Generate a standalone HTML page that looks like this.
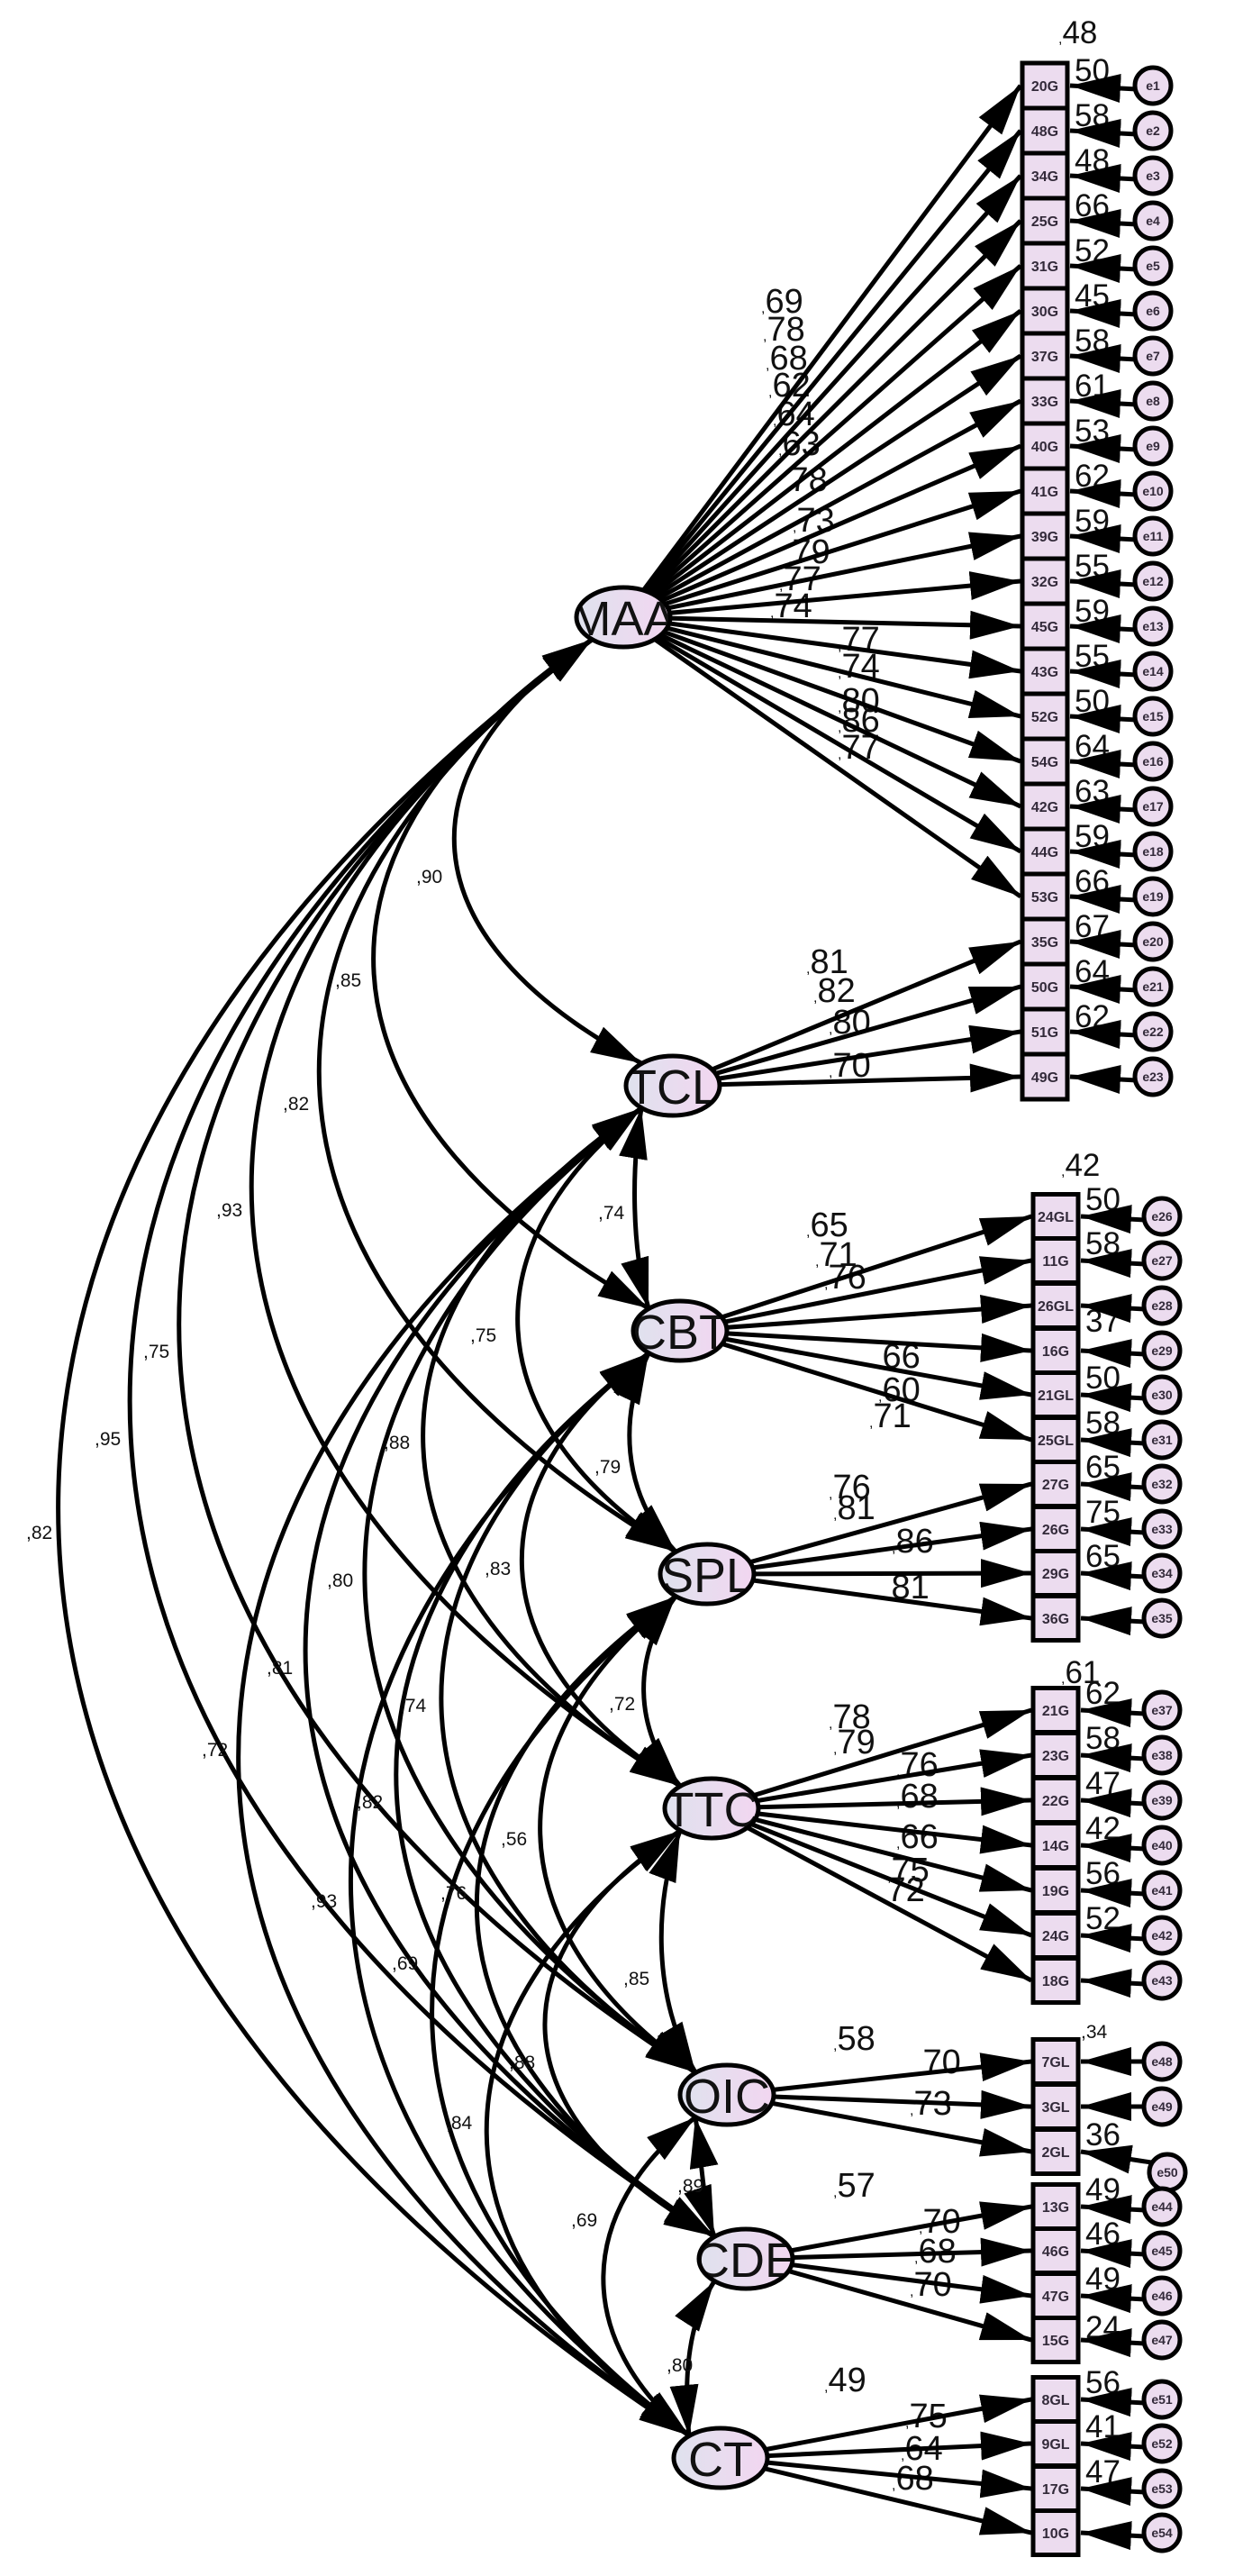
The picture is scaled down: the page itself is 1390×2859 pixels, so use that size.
<!DOCTYPE html>
<html><head><meta charset="utf-8"><style>
html,body{margin:0;padding:0;background:#fff}
svg{display:block}
.ln{stroke:#000;stroke-width:5;fill:none}
.bx{fill:#ecdcef;stroke:#000;stroke-width:5;height:50px;transform:translateY(-3px)}
rect.bx[x="1147"]{height:49px;transform:translateY(-2.5px)}
.bt{font-family:"Liberation Sans",sans-serif;font-size:16px;font-weight:bold;fill:#332a3a;text-anchor:middle}
.ec{fill:#ecdcef;stroke:#000;stroke-width:5}
.et{font-family:"Liberation Sans",sans-serif;font-size:14px;font-weight:bold;fill:#332a3a;text-anchor:middle}
.L{font-family:"Liberation Sans",sans-serif;font-size:38px;fill:#111}
.S{font-family:"Liberation Sans",sans-serif;font-size:35px;fill:#111}
.c{font-size:16px}
.R{font-family:"Liberation Sans",sans-serif;font-size:21px;fill:#111}
.lat{stroke:#000;stroke-width:5;fill:url(#g)}
.lt{font-family:"Liberation Sans",sans-serif;font-size:54px;fill:#111;text-anchor:middle}
</style></head><body>
<svg width="1390" height="2859" viewBox="0 0 1390 2859" xmlns="http://www.w3.org/2000/svg">
<defs>
<marker id="a" markerWidth="56" markerHeight="32" refX="56" refY="16" orient="auto-start-reverse" markerUnits="userSpaceOnUse"><path d="M0,0 L56,16 L0,32 z" fill="#000"/></marker>
<linearGradient id="g" x1="0" x2="1" y1="0" y2="0"><stop offset="0" stop-color="#dfe2ee"/><stop offset="1" stop-color="#f2d6f0"/></linearGradient>
<clipPath id="kMAA"><ellipse cx="692" cy="685" rx="50" ry="31"/></clipPath>
<clipPath id="kTCL"><ellipse cx="747" cy="1205" rx="50" ry="31"/></clipPath>
<clipPath id="kCBT"><ellipse cx="755" cy="1477" rx="50" ry="31"/></clipPath>
<clipPath id="kSPL"><ellipse cx="785" cy="1747" rx="50" ry="31"/></clipPath>
<clipPath id="kTTC"><ellipse cx="790" cy="2007" rx="50" ry="31"/></clipPath>
<clipPath id="kOIC"><ellipse cx="807" cy="2325" rx="50" ry="31"/></clipPath>
<clipPath id="kCDE"><ellipse cx="828" cy="2507" rx="50" ry="31"/></clipPath>
<clipPath id="kCT"><ellipse cx="800" cy="2728" rx="50" ry="31"/></clipPath>
</defs>

<g class="S">
<text x="1175" y="48"><tspan class="c">,</tspan>48</text>
<text x="1193" y="90">50</text><text x="1193" y="140">58</text><text x="1193" y="190">48</text><text x="1193" y="240">66</text>
<text x="1193" y="290">52</text><text x="1193" y="340">45</text><text x="1193" y="390">58</text><text x="1193" y="440">61</text>
<text x="1193" y="490">53</text><text x="1193" y="540">62</text><text x="1193" y="590">59</text><text x="1193" y="640">55</text>
<text x="1193" y="690">59</text><text x="1193" y="740">55</text><text x="1193" y="790">50</text><text x="1193" y="840">64</text>
<text x="1193" y="890">63</text><text x="1193" y="940">59</text><text x="1193" y="990">66</text><text x="1193" y="1040">67</text>
<text x="1193" y="1090">64</text><text x="1193" y="1140">62</text>
<text x="1178" y="1305"><tspan class="c">,</tspan>42</text>
<text x="1205" y="1343">50</text><text x="1205" y="1392">58</text><text x="1205" y="1478">37</text>
<text x="1205" y="1541">50</text><text x="1205" y="1591">58</text><text x="1205" y="1640">65</text><text x="1205" y="1690">75</text><text x="1205" y="1739">65</text>
<text x="1178" y="1868"><tspan class="c">,</tspan>61</text>
<text x="1205" y="1891">62</text><text x="1205" y="1941">58</text><text x="1205" y="1991">47</text><text x="1205" y="2041">42</text><text x="1205" y="2091">56</text><text x="1205" y="2141">52</text>
<text x="1205" y="2381">36</text>
<text x="1205" y="2442">49</text><text x="1205" y="2491">46</text><text x="1205" y="2541">49</text><text x="1205" y="2595">24</text>
<text x="1205" y="2656">56</text><text x="1205" y="2705">41</text><text x="1205" y="2755">47</text>
</g>
<text class="R" x="1200" y="2262">,34</text>

<g class="L">
<text x="845" y="347"><tspan class="c">,</tspan>69</text>
<text x="847" y="378"><tspan class="c">,</tspan>78</text>
<text x="850" y="410"><tspan class="c">,</tspan>68</text>
<text x="853" y="440"><tspan class="c">,</tspan>62</text>
<text x="858" y="472"><tspan class="c">,</tspan>64</text>
<text x="864" y="505"><tspan class="c">,</tspan>63</text>
<text x="872" y="545"><tspan class="c">,</tspan>78</text>
<text x="880" y="590"><tspan class="c">,</tspan>73</text>
<text x="875" y="625"><tspan class="c">,</tspan>79</text>
<text x="865" y="655"><tspan class="c">,</tspan>77</text>
<text x="855" y="685"><tspan class="c">,</tspan>74</text>
<text x="930" y="722"><tspan class="c">,</tspan>77</text>
<text x="930" y="752"><tspan class="c">,</tspan>74</text>
<text x="930" y="790"><tspan class="c">,</tspan>80</text>
<text x="930" y="812"><tspan class="c">,</tspan>86</text>
<text x="930" y="842"><tspan class="c">,</tspan>77</text>
<text x="895" y="1080"><tspan class="c">,</tspan>81</text>
<text x="903" y="1112"><tspan class="c">,</tspan>82</text>
<text x="920" y="1147"><tspan class="c">,</tspan>80</text>
<text x="920" y="1195"><tspan class="c">,</tspan>70</text>
<text x="895" y="1372"><tspan class="c">,</tspan>65</text>
<text x="905" y="1405"><tspan class="c">,</tspan>71</text>
<text x="915" y="1430"><tspan class="c">,</tspan>76</text>
<text x="975" y="1518"><tspan class="c">,</tspan>66</text>
<text x="975" y="1555"><tspan class="c">,</tspan>60</text>
<text x="965" y="1584"><tspan class="c">,</tspan>71</text>
<text x="920" y="1663"><tspan class="c">,</tspan>76</text>
<text x="925" y="1686"><tspan class="c">,</tspan>81</text>
<text x="990" y="1723"><tspan class="c">,</tspan>86</text>
<text x="985" y="1774"><tspan class="c">,</tspan>81</text>
<text x="920" y="1918"><tspan class="c">,</tspan>78</text>
<text x="925" y="1946"><tspan class="c">,</tspan>79</text>
<text x="995" y="1971"><tspan class="c">,</tspan>76</text>
<text x="995" y="2006"><tspan class="c">,</tspan>68</text>
<text x="995" y="2051"><tspan class="c">,</tspan>66</text>
<text x="985" y="2088"><tspan class="c">,</tspan>75</text>
<text x="980" y="2110"><tspan class="c">,</tspan>72</text>
<text x="925" y="2275"><tspan class="c">,</tspan>58</text>
<text x="1020" y="2301"><tspan class="c">,</tspan>70</text>
<text x="1010" y="2347"><tspan class="c">,</tspan>73</text>
<text x="925" y="2438"><tspan class="c">,</tspan>57</text>
<text x="1020" y="2478"><tspan class="c">,</tspan>70</text>
<text x="1015" y="2511"><tspan class="c">,</tspan>68</text>
<text x="1010" y="2548"><tspan class="c">,</tspan>70</text>
<text x="915" y="2654"><tspan class="c">,</tspan>49</text>
<text x="1005" y="2694"><tspan class="c">,</tspan>75</text>
<text x="1000" y="2730"><tspan class="c">,</tspan>64</text>
<text x="990" y="2763"><tspan class="c">,</tspan>68</text>
</g>

<g class="ln" marker-start="url(#a)" marker-end="url(#a)">
<path d="M657,710 C445,851 445,1039 712,1180"/>
<path d="M657,710 C324,933 324,1229 720,1452"/>
<path d="M657,710 C239,1014 239,1418 750,1722"/>
<path d="M657,710 C138,1092 138,1600 755,1982"/>
<path d="M657,710 C28,1187 28,1823 772,2300"/>
<path d="M657,710 C-48,1242 -48,1950 793,2482"/>
<path d="M657,710 C-150,1308 -150,2105 765,2703"/>
<path d="M712,1230 C701,1297 701,1385 720,1452"/>
<path d="M712,1230 C523,1378 523,1574 750,1722"/>
<path d="M712,1230 C382,1456 382,1756 755,1982"/>
<path d="M712,1230 C293,1551 293,1979 772,2300"/>
<path d="M712,1230 C202,1606 202,2106 793,2482"/>
<path d="M712,1230 C107,1672 107,2261 765,2703"/>
<path d="M720,1502 C688,1568 688,1656 750,1722"/>
<path d="M720,1502 C527,1646 527,1838 755,1982"/>
<path d="M720,1502 C405,1741 405,2061 772,2300"/>
<path d="M720,1502 C335,1796 335,2188 793,2482"/>
<path d="M720,1502 C272,1862 272,2343 765,2703"/>
<path d="M750,1772 C702,1835 702,1919 755,1982"/>
<path d="M750,1772 C546,1930 546,2142 772,2300"/>
<path d="M750,1772 C449,1985 449,2269 793,2482"/>
<path d="M750,1772 C387,2051 387,2424 765,2703"/>
<path d="M755,2032 C725,2112 725,2220 772,2300"/>
<path d="M755,2032 C549,2167 549,2347 793,2482"/>
<path d="M755,2032 C467,2233 467,2502 765,2703"/>
<path d="M772,2350 C779,2390 779,2442 793,2482"/>
<path d="M772,2350 C637,2456 637,2597 765,2703"/>
<path d="M793,2532 C760,2583 760,2652 765,2703"/>
</g>
<g class="R">
<text x="462" y="980">,90</text><text x="372" y="1095">,85</text><text x="314" y="1232">,82</text>
<text x="240" y="1350">,93</text><text x="159" y="1507">,75</text><text x="105" y="1604">,95</text>
<text x="29" y="1708">,82</text><text x="664" y="1353">,74</text><text x="522" y="1489">,75</text>
<text x="426" y="1608">,88</text><text x="363" y="1761">,80</text><text x="296" y="1858">,81</text>
<text x="224" y="1949">,72</text><text x="660" y="1635">,79</text><text x="538" y="1748">,83</text>
<text x="444" y="1900">,74</text><text x="396" y="2007">,82</text><text x="345" y="2117">,93</text>
<text x="676" y="1898">,72</text><text x="556" y="2048">,56</text><text x="489" y="2108">,76</text>
<text x="435" y="2186">,69</text><text x="692" y="2203">,85</text><text x="565" y="2296">,88</text>
<text x="495" y="2363">,84</text><text x="634" y="2471">,69</text><text x="752" y="2433">,89</text>
<text x="740" y="2632">,80</text>
</g>

<g class="ln" marker-end="url(#a)">
<line x1="692" y1="685" x2="1133" y2="95"/><line x1="692" y1="685" x2="1133" y2="145"/>
<line x1="692" y1="685" x2="1133" y2="195"/><line x1="692" y1="685" x2="1133" y2="245"/>
<line x1="692" y1="685" x2="1133" y2="295"/><line x1="692" y1="685" x2="1133" y2="345"/>
<line x1="692" y1="685" x2="1133" y2="395"/><line x1="692" y1="685" x2="1133" y2="445"/>
<line x1="692" y1="685" x2="1133" y2="495"/><line x1="692" y1="685" x2="1133" y2="545"/>
<line x1="692" y1="685" x2="1133" y2="595"/><line x1="692" y1="685" x2="1133" y2="645"/>
<line x1="692" y1="685" x2="1133" y2="695"/><line x1="692" y1="685" x2="1133" y2="745"/>
<line x1="692" y1="685" x2="1133" y2="795"/><line x1="692" y1="685" x2="1133" y2="845"/>
<line x1="692" y1="685" x2="1133" y2="895"/><line x1="692" y1="685" x2="1133" y2="945"/>
<line x1="692" y1="685" x2="1133" y2="995"/>
<line x1="747" y1="1205" x2="1133" y2="1045"/><line x1="747" y1="1205" x2="1133" y2="1095"/>
<line x1="747" y1="1205" x2="1133" y2="1145"/><line x1="747" y1="1205" x2="1133" y2="1195"/>
<line x1="755" y1="1477" x2="1145" y2="1350"/><line x1="755" y1="1477" x2="1145" y2="1399"/>
<line x1="755" y1="1477" x2="1145" y2="1449"/><line x1="755" y1="1477" x2="1145" y2="1499"/>
<line x1="755" y1="1477" x2="1145" y2="1548"/><line x1="755" y1="1477" x2="1145" y2="1598"/>
<line x1="785" y1="1747" x2="1145" y2="1647"/><line x1="785" y1="1747" x2="1145" y2="1697"/>
<line x1="785" y1="1747" x2="1145" y2="1746"/><line x1="785" y1="1747" x2="1145" y2="1796"/>
<line x1="790" y1="2007" x2="1145" y2="1898"/><line x1="790" y1="2007" x2="1145" y2="1948"/>
<line x1="790" y1="2007" x2="1145" y2="1998"/><line x1="790" y1="2007" x2="1145" y2="2048"/>
<line x1="790" y1="2007" x2="1145" y2="2098"/><line x1="790" y1="2007" x2="1145" y2="2148"/>
<line x1="790" y1="2007" x2="1145" y2="2198"/>
<line x1="807" y1="2325" x2="1145" y2="2288"/><line x1="807" y1="2325" x2="1145" y2="2338"/>
<line x1="807" y1="2325" x2="1145" y2="2388"/>
<line x1="828" y1="2507" x2="1145" y2="2449"/><line x1="828" y1="2507" x2="1145" y2="2498"/>
<line x1="828" y1="2507" x2="1145" y2="2548"/><line x1="828" y1="2507" x2="1145" y2="2597"/>
<line x1="800" y1="2728" x2="1145" y2="2663"/><line x1="800" y1="2728" x2="1145" y2="2712"/>
<line x1="800" y1="2728" x2="1145" y2="2762"/><line x1="800" y1="2728" x2="1145" y2="2811"/>
</g>

<g class="ln" marker-end="url(#a)">
<line x1="1262" y1="99" x2="1188" y2="95"/><line x1="1262" y1="149" x2="1188" y2="145"/>
<line x1="1262" y1="199" x2="1188" y2="195"/><line x1="1262" y1="249" x2="1188" y2="245"/>
<line x1="1262" y1="299" x2="1188" y2="295"/><line x1="1262" y1="349" x2="1188" y2="345"/>
<line x1="1262" y1="399" x2="1188" y2="395"/><line x1="1262" y1="449" x2="1188" y2="445"/>
<line x1="1262" y1="499" x2="1188" y2="495"/><line x1="1262" y1="549" x2="1188" y2="545"/>
<line x1="1262" y1="599" x2="1188" y2="595"/><line x1="1262" y1="649" x2="1188" y2="645"/>
<line x1="1262" y1="699" x2="1188" y2="695"/><line x1="1262" y1="749" x2="1188" y2="745"/>
<line x1="1262" y1="799" x2="1188" y2="795"/><line x1="1262" y1="849" x2="1188" y2="845"/>
<line x1="1262" y1="899" x2="1188" y2="895"/><line x1="1262" y1="949" x2="1188" y2="945"/>
<line x1="1262" y1="999" x2="1188" y2="995"/><line x1="1262" y1="1049" x2="1188" y2="1045"/>
<line x1="1262" y1="1099" x2="1188" y2="1095"/><line x1="1262" y1="1149" x2="1188" y2="1145"/>
<line x1="1262" y1="1199" x2="1188" y2="1195"/>
<line x1="1272" y1="1354" x2="1200" y2="1350"/><line x1="1272" y1="1403" x2="1200" y2="1399"/>
<line x1="1272" y1="1453" x2="1200" y2="1449"/><line x1="1272" y1="1503" x2="1200" y2="1499"/>
<line x1="1272" y1="1552" x2="1200" y2="1548"/><line x1="1272" y1="1602" x2="1200" y2="1598"/>
<line x1="1272" y1="1651" x2="1200" y2="1647"/><line x1="1272" y1="1701" x2="1200" y2="1697"/>
<line x1="1272" y1="1750" x2="1200" y2="1746"/><line x1="1272" y1="1800" x2="1200" y2="1796"/>
<line x1="1272" y1="1902" x2="1200" y2="1898"/><line x1="1272" y1="1952" x2="1200" y2="1948"/>
<line x1="1272" y1="2002" x2="1200" y2="1998"/><line x1="1272" y1="2052" x2="1200" y2="2048"/>
<line x1="1272" y1="2102" x2="1200" y2="2098"/><line x1="1272" y1="2152" x2="1200" y2="2148"/>
<line x1="1272" y1="2202" x2="1200" y2="2198"/>
<line x1="1272" y1="2288" x2="1200" y2="2288"/><line x1="1272" y1="2338" x2="1200" y2="2338"/>
<line x1="1278" y1="2400" x2="1200" y2="2388"/>
<line x1="1272" y1="2453" x2="1200" y2="2449"/><line x1="1272" y1="2502" x2="1200" y2="2498"/>
<line x1="1272" y1="2552" x2="1200" y2="2548"/><line x1="1272" y1="2601" x2="1200" y2="2597"/>
<line x1="1272" y1="2667" x2="1200" y2="2663"/><line x1="1272" y1="2716" x2="1200" y2="2712"/>
<line x1="1272" y1="2766" x2="1200" y2="2762"/><line x1="1272" y1="2815" x2="1200" y2="2811"/>
</g>

<g>
<rect class="bx" x="1135" y="73" width="50" height="44"/><text class="bt" x="1160" y="101">20G</text>
<rect class="bx" x="1135" y="123" width="50" height="44"/><text class="bt" x="1160" y="151">48G</text>
<rect class="bx" x="1135" y="173" width="50" height="44"/><text class="bt" x="1160" y="201">34G</text>
<rect class="bx" x="1135" y="223" width="50" height="44"/><text class="bt" x="1160" y="251">25G</text>
<rect class="bx" x="1135" y="273" width="50" height="44"/><text class="bt" x="1160" y="301">31G</text>
<rect class="bx" x="1135" y="323" width="50" height="44"/><text class="bt" x="1160" y="351">30G</text>
<rect class="bx" x="1135" y="373" width="50" height="44"/><text class="bt" x="1160" y="401">37G</text>
<rect class="bx" x="1135" y="423" width="50" height="44"/><text class="bt" x="1160" y="451">33G</text>
<rect class="bx" x="1135" y="473" width="50" height="44"/><text class="bt" x="1160" y="501">40G</text>
<rect class="bx" x="1135" y="523" width="50" height="44"/><text class="bt" x="1160" y="551">41G</text>
<rect class="bx" x="1135" y="573" width="50" height="44"/><text class="bt" x="1160" y="601">39G</text>
<rect class="bx" x="1135" y="623" width="50" height="44"/><text class="bt" x="1160" y="651">32G</text>
<rect class="bx" x="1135" y="673" width="50" height="44"/><text class="bt" x="1160" y="701">45G</text>
<rect class="bx" x="1135" y="723" width="50" height="44"/><text class="bt" x="1160" y="751">43G</text>
<rect class="bx" x="1135" y="773" width="50" height="44"/><text class="bt" x="1160" y="801">52G</text>
<rect class="bx" x="1135" y="823" width="50" height="44"/><text class="bt" x="1160" y="851">54G</text>
<rect class="bx" x="1135" y="873" width="50" height="44"/><text class="bt" x="1160" y="901">42G</text>
<rect class="bx" x="1135" y="923" width="50" height="44"/><text class="bt" x="1160" y="951">44G</text>
<rect class="bx" x="1135" y="973" width="50" height="44"/><text class="bt" x="1160" y="1001">53G</text>
<rect class="bx" x="1135" y="1023" width="50" height="44"/><text class="bt" x="1160" y="1051">35G</text>
<rect class="bx" x="1135" y="1073" width="50" height="44"/><text class="bt" x="1160" y="1101">50G</text>
<rect class="bx" x="1135" y="1123" width="50" height="44"/><text class="bt" x="1160" y="1151">51G</text>
<rect class="bx" x="1135" y="1173" width="50" height="44"/><text class="bt" x="1160" y="1201">49G</text>
</g>
<g>
<rect class="bx" x="1147" y="1328" width="50" height="44"/><text class="bt" x="1172" y="1356">24GL</text>
<rect class="bx" x="1147" y="1377" width="50" height="44"/><text class="bt" x="1172" y="1405">11G</text>
<rect class="bx" x="1147" y="1427" width="50" height="44"/><text class="bt" x="1172" y="1455">26GL</text>
<rect class="bx" x="1147" y="1477" width="50" height="44"/><text class="bt" x="1172" y="1505">16G</text>
<rect class="bx" x="1147" y="1526" width="50" height="44"/><text class="bt" x="1172" y="1554">21GL</text>
<rect class="bx" x="1147" y="1576" width="50" height="44"/><text class="bt" x="1172" y="1604">25GL</text>
<rect class="bx" x="1147" y="1625" width="50" height="44"/><text class="bt" x="1172" y="1653">27G</text>
<rect class="bx" x="1147" y="1675" width="50" height="44"/><text class="bt" x="1172" y="1703">26G</text>
<rect class="bx" x="1147" y="1724" width="50" height="44"/><text class="bt" x="1172" y="1752">29G</text>
<rect class="bx" x="1147" y="1774" width="50" height="44"/><text class="bt" x="1172" y="1802">36G</text>
<rect class="bx" x="1147" y="1876" width="50" height="44"/><text class="bt" x="1172" y="1904">21G</text>
<rect class="bx" x="1147" y="1926" width="50" height="44"/><text class="bt" x="1172" y="1954">23G</text>
<rect class="bx" x="1147" y="1976" width="50" height="44"/><text class="bt" x="1172" y="2004">22G</text>
<rect class="bx" x="1147" y="2026" width="50" height="44"/><text class="bt" x="1172" y="2054">14G</text>
<rect class="bx" x="1147" y="2076" width="50" height="44"/><text class="bt" x="1172" y="2104">19G</text>
<rect class="bx" x="1147" y="2126" width="50" height="44"/><text class="bt" x="1172" y="2154">24G</text>
<rect class="bx" x="1147" y="2176" width="50" height="44"/><text class="bt" x="1172" y="2204">18G</text>
<rect class="bx" x="1147" y="2266" width="50" height="44"/><text class="bt" x="1172" y="2294">7GL</text>
<rect class="bx" x="1147" y="2316" width="50" height="44"/><text class="bt" x="1172" y="2344">3GL</text>
<rect class="bx" x="1147" y="2366" width="50" height="44"/><text class="bt" x="1172" y="2394">2GL</text>
<rect class="bx" x="1147" y="2427" width="50" height="44"/><text class="bt" x="1172" y="2455">13G</text>
<rect class="bx" x="1147" y="2476" width="50" height="44"/><text class="bt" x="1172" y="2504">46G</text>
<rect class="bx" x="1147" y="2526" width="50" height="44"/><text class="bt" x="1172" y="2554">47G</text>
<rect class="bx" x="1147" y="2575" width="50" height="44"/><text class="bt" x="1172" y="2603">15G</text>
<rect class="bx" x="1147" y="2641" width="50" height="44"/><text class="bt" x="1172" y="2669">8GL</text>
<rect class="bx" x="1147" y="2690" width="50" height="44"/><text class="bt" x="1172" y="2718">9GL</text>
<rect class="bx" x="1147" y="2740" width="50" height="44"/><text class="bt" x="1172" y="2768">17G</text>
<rect class="bx" x="1147" y="2789" width="50" height="44"/><text class="bt" x="1172" y="2817">10G</text>
</g>

<g>
<circle class="ec" cx="1280" cy="95" r="20"/><text class="et" x="1280" y="100">e1</text>
<circle class="ec" cx="1280" cy="145" r="20"/><text class="et" x="1280" y="150">e2</text>
<circle class="ec" cx="1280" cy="195" r="20"/><text class="et" x="1280" y="200">e3</text>
<circle class="ec" cx="1280" cy="245" r="20"/><text class="et" x="1280" y="250">e4</text>
<circle class="ec" cx="1280" cy="295" r="20"/><text class="et" x="1280" y="300">e5</text>
<circle class="ec" cx="1280" cy="345" r="20"/><text class="et" x="1280" y="350">e6</text>
<circle class="ec" cx="1280" cy="395" r="20"/><text class="et" x="1280" y="400">e7</text>
<circle class="ec" cx="1280" cy="445" r="20"/><text class="et" x="1280" y="450">e8</text>
<circle class="ec" cx="1280" cy="495" r="20"/><text class="et" x="1280" y="500">e9</text>
<circle class="ec" cx="1280" cy="545" r="20"/><text class="et" x="1280" y="550">e10</text>
<circle class="ec" cx="1280" cy="595" r="20"/><text class="et" x="1280" y="600">e11</text>
<circle class="ec" cx="1280" cy="645" r="20"/><text class="et" x="1280" y="650">e12</text>
<circle class="ec" cx="1280" cy="695" r="20"/><text class="et" x="1280" y="700">e13</text>
<circle class="ec" cx="1280" cy="745" r="20"/><text class="et" x="1280" y="750">e14</text>
<circle class="ec" cx="1280" cy="795" r="20"/><text class="et" x="1280" y="800">e15</text>
<circle class="ec" cx="1280" cy="845" r="20"/><text class="et" x="1280" y="850">e16</text>
<circle class="ec" cx="1280" cy="895" r="20"/><text class="et" x="1280" y="900">e17</text>
<circle class="ec" cx="1280" cy="945" r="20"/><text class="et" x="1280" y="950">e18</text>
<circle class="ec" cx="1280" cy="995" r="20"/><text class="et" x="1280" y="1000">e19</text>
<circle class="ec" cx="1280" cy="1045" r="20"/><text class="et" x="1280" y="1050">e20</text>
<circle class="ec" cx="1280" cy="1095" r="20"/><text class="et" x="1280" y="1100">e21</text>
<circle class="ec" cx="1280" cy="1145" r="20"/><text class="et" x="1280" y="1150">e22</text>
<circle class="ec" cx="1280" cy="1195" r="20"/><text class="et" x="1280" y="1200">e23</text>
<circle class="ec" cx="1290" cy="1350" r="20"/><text class="et" x="1290" y="1355">e26</text>
<circle class="ec" cx="1290" cy="1399" r="20"/><text class="et" x="1290" y="1404">e27</text>
<circle class="ec" cx="1290" cy="1449" r="20"/><text class="et" x="1290" y="1454">e28</text>
<circle class="ec" cx="1290" cy="1499" r="20"/><text class="et" x="1290" y="1504">e29</text>
<circle class="ec" cx="1290" cy="1548" r="20"/><text class="et" x="1290" y="1553">e30</text>
<circle class="ec" cx="1290" cy="1598" r="20"/><text class="et" x="1290" y="1603">e31</text>
<circle class="ec" cx="1290" cy="1647" r="20"/><text class="et" x="1290" y="1652">e32</text>
<circle class="ec" cx="1290" cy="1697" r="20"/><text class="et" x="1290" y="1702">e33</text>
<circle class="ec" cx="1290" cy="1746" r="20"/><text class="et" x="1290" y="1751">e34</text>
<circle class="ec" cx="1290" cy="1796" r="20"/><text class="et" x="1290" y="1801">e35</text>
<circle class="ec" cx="1290" cy="1898" r="20"/><text class="et" x="1290" y="1903">e37</text>
<circle class="ec" cx="1290" cy="1948" r="20"/><text class="et" x="1290" y="1953">e38</text>
<circle class="ec" cx="1290" cy="1998" r="20"/><text class="et" x="1290" y="2003">e39</text>
<circle class="ec" cx="1290" cy="2048" r="20"/><text class="et" x="1290" y="2053">e40</text>
<circle class="ec" cx="1290" cy="2098" r="20"/><text class="et" x="1290" y="2103">e41</text>
<circle class="ec" cx="1290" cy="2148" r="20"/><text class="et" x="1290" y="2153">e42</text>
<circle class="ec" cx="1290" cy="2198" r="20"/><text class="et" x="1290" y="2203">e43</text>
<circle class="ec" cx="1290" cy="2288" r="20"/><text class="et" x="1290" y="2293">e48</text>
<circle class="ec" cx="1290" cy="2338" r="20"/><text class="et" x="1290" y="2343">e49</text>
<circle class="ec" cx="1296" cy="2411" r="20"/><text class="et" x="1296" y="2416">e50</text>
<circle class="ec" cx="1290" cy="2449" r="20"/><text class="et" x="1290" y="2454">e44</text>
<circle class="ec" cx="1290" cy="2498" r="20"/><text class="et" x="1290" y="2503">e45</text>
<circle class="ec" cx="1290" cy="2548" r="20"/><text class="et" x="1290" y="2553">e46</text>
<circle class="ec" cx="1290" cy="2597" r="20"/><text class="et" x="1290" y="2602">e47</text>
<circle class="ec" cx="1290" cy="2663" r="20"/><text class="et" x="1290" y="2668">e51</text>
<circle class="ec" cx="1290" cy="2712" r="20"/><text class="et" x="1290" y="2717">e52</text>
<circle class="ec" cx="1290" cy="2762" r="20"/><text class="et" x="1290" y="2767">e53</text>
<circle class="ec" cx="1290" cy="2811" r="20"/><text class="et" x="1290" y="2816">e54</text>
</g>

<ellipse class="lat" cx="692" cy="685" rx="52" ry="33"/><text class="lt" x="692" y="705" clip-path="url(#kMAA)">MAA</text>
<ellipse class="lat" cx="747" cy="1205" rx="52" ry="33"/><text class="lt" x="747" y="1225" clip-path="url(#kTCL)">TCL</text>
<ellipse class="lat" cx="755" cy="1477" rx="52" ry="33"/><text class="lt" x="755" y="1497" clip-path="url(#kCBT)">CBT</text>
<ellipse class="lat" cx="785" cy="1747" rx="52" ry="33"/><text class="lt" x="785" y="1767" clip-path="url(#kSPL)">SPL</text>
<ellipse class="lat" cx="790" cy="2007" rx="52" ry="33"/><text class="lt" x="790" y="2027" clip-path="url(#kTTC)">TTC</text>
<ellipse class="lat" cx="807" cy="2325" rx="52" ry="33"/><text class="lt" x="807" y="2345" clip-path="url(#kOIC)">OIC</text>
<ellipse class="lat" cx="828" cy="2507" rx="52" ry="33"/><text class="lt" x="828" y="2527" clip-path="url(#kCDE)">CDE</text>
<ellipse class="lat" cx="800" cy="2728" rx="52" ry="33"/><text class="lt" x="800" y="2748" clip-path="url(#kCT)">CT</text>
</svg>
</body></html>
